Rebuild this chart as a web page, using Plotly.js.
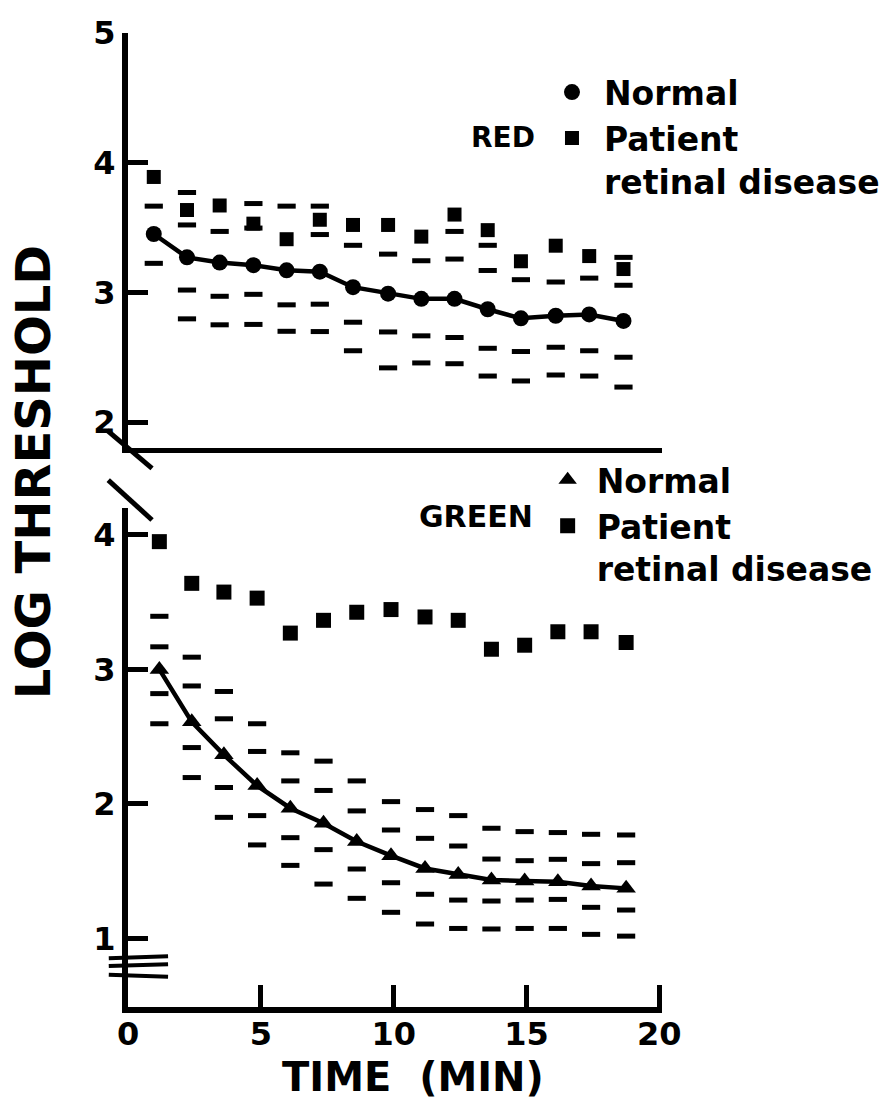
<!DOCTYPE html>
<html>
<head>
<meta charset="utf-8">
<script src="https://cdn.plot.ly/plotly-3.0.1.min.js"></script>
<style>
html,body{margin:0;padding:0;background:#fff;}
#chart{width:888px;height:1103px;}
</style>
</head>
<body>
<div id="chart"></div>
<script>
// ---------- RED (top panel) ----------
const redTime = [0.97, 2.22, 3.45, 4.72, 5.97, 7.22, 8.47, 9.79, 11.04, 12.29, 13.54, 14.79, 16.1, 17.36, 18.65];
const redNormal = [3.45, 3.27, 3.23, 3.21, 3.17, 3.16, 3.04, 2.99, 2.95, 2.95, 2.87, 2.80, 2.82, 2.83, 2.78];
const redPatient = [3.89, 3.635, 3.67, 3.53, 3.41, 3.56, 3.52, 3.52, 3.43, 3.60, 3.48, 3.24, 3.36, 3.28, 3.18];
const redUpper2 = [null, 3.77, null, 3.685, 3.665, 3.665, null, null, null, 3.47, 3.363, null, null, null, 3.27];
const redUpper1 = [3.665, 3.52, 3.47, 3.496, null, 3.446, 3.363, 3.295, 3.244, 3.257, 3.169, 3.098, 3.08, 3.11, 3.055];
const redLower1 = [3.224, 3.018, 2.97, 2.985, 2.904, 2.909, 2.77, 2.695, 2.665, 2.652, 2.569, 2.544, 2.577, 2.55, 2.50];
const redLower2 = [null, 2.796, 2.75, 2.753, 2.70, 2.698, 2.55, 2.418, 2.456, 2.45, 2.355, 2.317, 2.363, 2.355, 2.27];

// ---------- GREEN (bottom panel) ----------
const greenTime = [1.18, 2.4, 3.61, 4.86, 6.11, 7.36, 8.61, 9.9, 11.18, 12.43, 13.68, 14.93, 16.18, 17.43, 18.75];
const greenNormal = [3.0, 2.61, 2.365, 2.136, 1.968, 1.856, 1.72, 1.615, 1.52, 1.476, 1.434, 1.427, 1.422, 1.39, 1.372];
const greenPatient = [3.95, 3.64, 3.575, 3.53, 3.27, 3.365, 3.425, 3.445, 3.39, 3.365, 3.15, 3.18, 3.28, 3.28, 3.20];
const greenUpper2 = [3.395, 3.091, 2.836, 2.596, 2.38, 2.318, 2.171, 2.017, 1.958, 1.913, 1.819, 1.794, 1.787, 1.774, 1.769];
const greenUpper1 = [3.168, 2.877, 2.633, 2.39, 2.171, 2.10, 1.948, 1.806, 1.744, 1.687, 1.59, 1.578, 1.588, 1.556, 1.563];
const greenLower1 = [2.82, 2.419, 2.122, 1.913, 1.749, 1.66, 1.516, 1.414, 1.328, 1.285, 1.278, 1.285, 1.29, 1.231, 1.211];
const greenLower2 = [2.596, 2.196, 1.90, 1.695, 1.543, 1.404, 1.298, 1.194, 1.107, 1.074, 1.07, 1.074, 1.074, 1.03, 1.017];

// ---------- ticks & labels ----------
const xTicks = [0, 5, 10, 15, 20];
const redTicks = [2, 3, 4, 5];
const greenTicks = [1, 2, 3, 4];
const labels = {
  red: 'RED', green: 'GREEN', normal: 'Normal',
  patient: 'Patient<br>retinal disease',
  yTitle: 'LOG THRESHOLD', xTitle: 'TIME\u00a0\u00a0(MIN)'
};

const FONT = 'DejaVu Sans, Arial, sans-serif';
const INK = '#000';

function dashTrace(x, y, xa, ya) {
  return {
    x: x, y: y, xaxis: xa, yaxis: ya, type: 'scatter', mode: 'markers',
    showlegend: false, hoverinfo: 'skip',
    marker: {symbol: 'line-ew', size: 13, color: INK, line: {color: INK, width: 5}}
  };
}

const traces = [
  // top panel
  dashTrace(redTime, redUpper2, 'x2', 'y2'),
  dashTrace(redTime, redUpper1, 'x2', 'y2'),
  dashTrace(redTime, redLower1, 'x2', 'y2'),
  dashTrace(redTime, redLower2, 'x2', 'y2'),
  {x: redTime, y: redNormal, xaxis: 'x2', yaxis: 'y2', type: 'scatter', mode: 'lines',
   showlegend: false, line: {color: INK, width: 4.5}},
  {x: redTime, y: redNormal, xaxis: 'x2', yaxis: 'y2', type: 'scatter', mode: 'markers',
   name: labels.normal, legend: 'legend', marker: {symbol: 'circle', size: 16, color: INK}},
  {x: redTime, y: redPatient, xaxis: 'x2', yaxis: 'y2', type: 'scatter', mode: 'markers',
   name: labels.patient, legend: 'legend', marker: {symbol: 'square', size: 14, color: INK}},
  // bottom panel
  dashTrace(greenTime, greenUpper2, 'x', 'y'),
  dashTrace(greenTime, greenUpper1, 'x', 'y'),
  dashTrace(greenTime, greenLower1, 'x', 'y'),
  dashTrace(greenTime, greenLower2, 'x', 'y'),
  {x: greenTime, y: greenNormal, xaxis: 'x', yaxis: 'y', type: 'scatter', mode: 'lines',
   showlegend: false, line: {color: INK, width: 4.5}},
  {x: greenTime, y: greenNormal, xaxis: 'x', yaxis: 'y', type: 'scatter', mode: 'markers',
   name: labels.normal, legend: 'legend2', marker: {symbol: 'triangle-up', size: 17, color: INK}},
  {x: greenTime, y: greenPatient, xaxis: 'x', yaxis: 'y', type: 'scatter', mode: 'markers',
   name: labels.patient, legend: 'legend2', marker: {symbol: 'square', size: 15, color: INK}}
];

const tickFont = {family: FONT, size: 32, color: INK, weight: 'bold'};
const legFont = {family: FONT, size: 33, color: INK, weight: 'bold'};

const layout = {
  width: 888, height: 1103,
  margin: {l: 128, r: 226, t: 33, b: 96, autoexpand: false},
  paper_bgcolor: '#fff', plot_bgcolor: '#fff',
  font: {family: FONT, color: INK},
  xaxis: {domain: [0, 1], range: [0, 20.1], anchor: 'y', showline: true, linewidth: 6, linecolor: INK,
          ticks: 'inside', ticklen: 22, tickwidth: 5, tickcolor: INK, tickvals: xTicks,
          tickfont: tickFont, ticklabelstandoff: -6, showgrid: false, zeroline: false},
  xaxis2: {domain: [0, 1], range: [0, 20.1], anchor: 'y2', showline: true, linewidth: 5, linecolor: INK,
           ticks: '', showticklabels: false, showgrid: false, zeroline: false},
  yaxis: {domain: [0, 0.5123], range: [0.49, 4.2], anchor: 'x', showline: true, linewidth: 6, linecolor: INK,
          ticks: 'inside', ticklen: 20, tickwidth: 5, tickcolor: INK, tickvals: greenTicks,
          tickfont: tickFont, showgrid: false, zeroline: false},
  yaxis2: {domain: [0.5739, 1], range: [1.8, 5], anchor: 'x2', showline: true, linewidth: 6, linecolor: INK,
           ticks: 'inside', ticklen: 20, tickwidth: 5, tickcolor: INK, tickvals: redTicks,
           tickfont: tickFont, showgrid: false, zeroline: false},
  showlegend: true,
  legend: {x: 0.7715, y: 0.968, xanchor: 'left', yanchor: 'top', bgcolor: 'rgba(0,0,0,0)',
           font: legFont, valign: 'top', traceorder: 'normal', tracegroupgap: 0, itemwidth: 54},
  legend2: {x: 0.769, y: 0.570, xanchor: 'left', yanchor: 'top', bgcolor: 'rgba(0,0,0,0)',
            font: legFont, valign: 'top', traceorder: 'normal', tracegroupgap: 0, itemwidth: 48},
  annotations: [
    {text: labels.red, xref: 'paper', yref: 'paper', x: 0.702, y: 0.893, xanchor: 'center', yanchor: 'middle',
     showarrow: false, font: {family: FONT, size: 28, color: INK, weight: 'bold'}},
    {text: labels.green, xref: 'paper', yref: 'paper', x: 0.652, y: 0.504, xanchor: 'center', yanchor: 'middle',
     showarrow: false, font: {family: FONT, size: 30, color: INK, weight: 'bold'}},
    {text: labels.yTitle, xref: 'paper', yref: 'paper', x: -0.178, y: 0.549, xanchor: 'center', yanchor: 'middle',
     showarrow: false, textangle: -90, font: {family: FONT, size: 48, color: INK, weight: 'bold'}},
    {text: labels.xTitle, xref: 'paper', yref: 'paper', x: 0.534, y: -0.0719, xanchor: 'center', yanchor: 'middle',
     showarrow: false, font: {family: FONT, size: 40, color: INK, weight: 'bold'}}
  ],
  shapes: [
    {type: 'line', xref: 'paper', yref: 'paper', x0: -0.039, y0: 0.592, x1: 0.045, y1: 0.553, line: {color: INK, width: 5}},
    {type: 'line', xref: 'paper', yref: 'paper', x0: -0.037, y0: 0.541, x1: 0.045, y1: 0.500, line: {color: INK, width: 5}},
    {type: 'line', xref: 'paper', yref: 'paper', x0: -0.036, y0: 0.050, x1: 0.075, y1: 0.052, line: {color: INK, width: 4}},
    {type: 'line', xref: 'paper', yref: 'paper', x0: -0.036, y0: 0.042, x1: 0.075, y1: 0.044, line: {color: INK, width: 4}},
    {type: 'line', xref: 'paper', yref: 'paper', x0: -0.036, y0: 0.033, x1: 0.075, y1: 0.031, line: {color: INK, width: 4}}
  ]
};

Plotly.newPlot('chart', traces, layout, {displayModeBar: false, staticPlot: true});
</script>
</body>
</html>
